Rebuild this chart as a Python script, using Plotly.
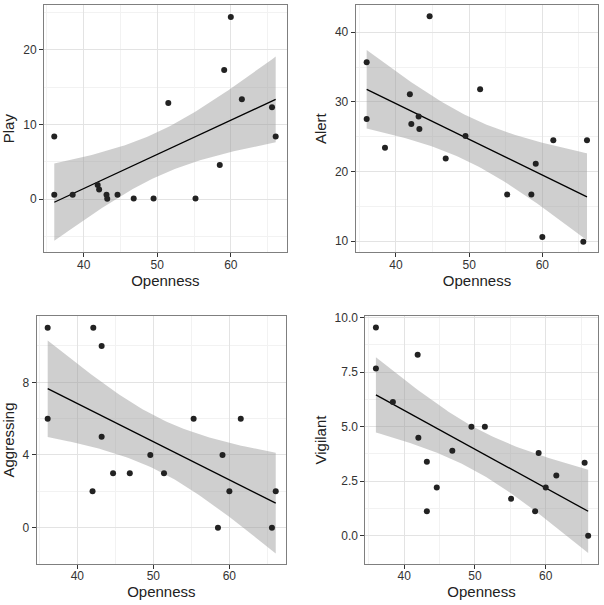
import numpy as np
import plotly.graph_objects as go

# ---- data ----
play_open = [36.0, 36.0, 38.5, 41.9, 42.1, 43.1, 43.2, 44.6, 46.8, 49.5, 51.5, 55.2, 58.5, 59.1, 60.0, 61.5, 65.6, 66.1]
play_val = [8.4, 0.6, 0.6, 1.9, 1.3, 0.6, 0.05, 0.6, 0.1, 0.1, 12.9, 0.1, 4.6, 17.3, 24.4, 13.4, 12.3, 8.4]

alert_open = [36.0, 36.0, 38.5, 41.9, 42.1, 43.1, 43.2, 44.6, 46.8, 49.5, 51.5, 55.2, 58.5, 59.1, 60.0, 61.5, 65.6, 66.1]
alert_val = [35.7, 27.55, 23.4, 31.1, 26.8, 27.9, 26.1, 42.3, 21.85, 25.1, 31.8, 16.7, 16.7, 21.1, 10.6, 24.5, 9.9, 24.5]

aggr_open = [36.1, 36.1, 42.1, 42.0, 43.2, 43.2, 44.7, 46.9, 49.6, 51.4, 55.3, 58.5, 59.1, 60.0, 61.5, 65.6, 66.1]
aggr_val = [11, 6, 11, 2, 10, 5, 3, 3, 4, 3, 6, 0, 4, 2, 6, 0, 2]

vig_open = [36.0, 36.0, 38.4, 41.9, 42.0, 43.2, 43.2, 44.6, 46.8, 49.5, 51.4, 55.1, 58.5, 59.0, 60.0, 61.5, 65.5, 66.0]
vig_val = [9.55, 7.67, 6.13, 8.3, 4.49, 3.39, 1.12, 2.21, 3.9, 5.0, 5.0, 1.69, 1.12, 3.79, 2.21, 2.76, 3.34, 0.0]

# two-sided 95% t quantiles by degrees of freedom
T975 = {15: 2.131, 16: 2.120}

panels = [
    dict(x=play_open, y=play_val, name="Play", xr=[34.6, 67.6], yr=[-7.1, 26.0],
         ytick=[0, 10, 20], ytext=["0", "10", "20"], ymin=[-5, 5, 15, 25],
         xd=[0.0728, 0.4747], yd=[0.583, 0.9917]),
    dict(x=alert_open, y=alert_val, name="Alert", xr=[34.5, 67.65], yr=[8.4, 43.9],
         ytick=[10, 20, 30, 40], ytext=["10", "20", "30", "40"], ymin=[15, 25, 35],
         xd=[0.5889, 0.9906], yd=[0.583, 0.9917]),
    dict(x=aggr_open, y=aggr_val, name="Aggressing", xr=[34.65, 67.45], yr=[-2.0, 11.65],
         ytick=[0, 4, 8], ytext=["0", "4", "8"], ymin=[2, 6, 10],
         xd=[0.0607, 0.4735], yd=[0.0678, 0.4777]),
    dict(x=vig_open, y=vig_val, name="Vigilant", xr=[34.5, 67.35], yr=[-1.3, 10.08],
         ytick=[0, 2.5, 5, 7.5, 10], ytext=["0.0", "2.5", "5.0", "7.5", "10.0"],
         ymin=[1.25, 3.75, 6.25, 8.75], xd=[0.6048, 0.9896], yd=[0.0678, 0.4777]),
]

fig = go.Figure()
font = "Liberation Sans, Arial, sans-serif"

for i, p in enumerate(panels):
    k = "" if i == 0 else str(i + 1)
    xa, ya = "x" + k, "y" + k
    x = np.array(p["x"], float)
    y = np.array(p["y"], float)
    n = len(x)
    b1, b0 = np.polyfit(x, y, 1)
    resid = y - (b0 + b1 * x)
    s = np.sqrt(np.sum(resid ** 2) / (n - 2))
    xs = np.linspace(x.min(), x.max(), 80)
    fit = b0 + b1 * xs
    se = s * np.sqrt(1.0 / n + (xs - x.mean()) ** 2 / np.sum((x - x.mean()) ** 2))
    t = T975[n - 2]
    lo, hi = fit - t * se, fit + t * se

    fig.add_trace(go.Scatter(x=np.concatenate([xs, xs[::-1]]), y=np.concatenate([hi, lo[::-1]]),
                             fill="toself", fillcolor="rgba(153,153,153,0.47)", line=dict(width=0),
                             mode="lines", hoverinfo="skip", showlegend=False, xaxis=xa, yaxis=ya))
    fig.add_trace(go.Scatter(x=xs, y=fit, mode="lines", line=dict(color="black", width=1.3),
                             showlegend=False, xaxis=xa, yaxis=ya))
    fig.add_trace(go.Scatter(x=x, y=y, mode="markers", marker=dict(color="#222222", size=6),
                             showlegend=False, xaxis=xa, yaxis=ya))

    axcommon = dict(showline=True, linecolor="#7f7f7f", linewidth=1, mirror=True,
                    ticks="outside", ticklen=4, tickcolor="#333333", tickwidth=1,
                    gridcolor="#e3e3e3", gridwidth=1, zeroline=False, automargin=False,
                    tickfont=dict(family=font, size=12, color="#333333"))
    fig.layout["xaxis" + k] = dict(axcommon, domain=p["xd"], range=p["xr"], anchor=ya,
                                   tickvals=[40, 50, 60], ticktext=["40", "50", "60"],
                                   ticklabelstandoff=-3,
                                   minor=dict(tickvals=[35, 45, 55, 65], showgrid=True,
                                              gridcolor="#f2f2f2", ticks=""),
                                   title=dict(text="Openness", standoff=0,
                                              font=dict(family=font, size=15, color="#222222")))
    fig.layout["yaxis" + k] = dict(axcommon, domain=p["yd"], range=p["yr"], anchor=xa,
                                   tickvals=p["ytick"], ticktext=p["ytext"],
                                   minor=dict(tickvals=p["ymin"], showgrid=True,
                                              gridcolor="#f2f2f2", ticks=""),
                                   title=dict(text=p["name"], standoff=4,
                                              font=dict(family=font, size=15, color="#222222")))

fig.update_layout(width=604, height=605, margin=dict(l=0, r=0, t=0, b=0),
                  paper_bgcolor="white", plot_bgcolor="white", showlegend=False)
fig.write_html("out.html", config={"displayModeBar": False},
               post_script="document.body.style.margin='0';document.body.style.overflow='hidden';")
